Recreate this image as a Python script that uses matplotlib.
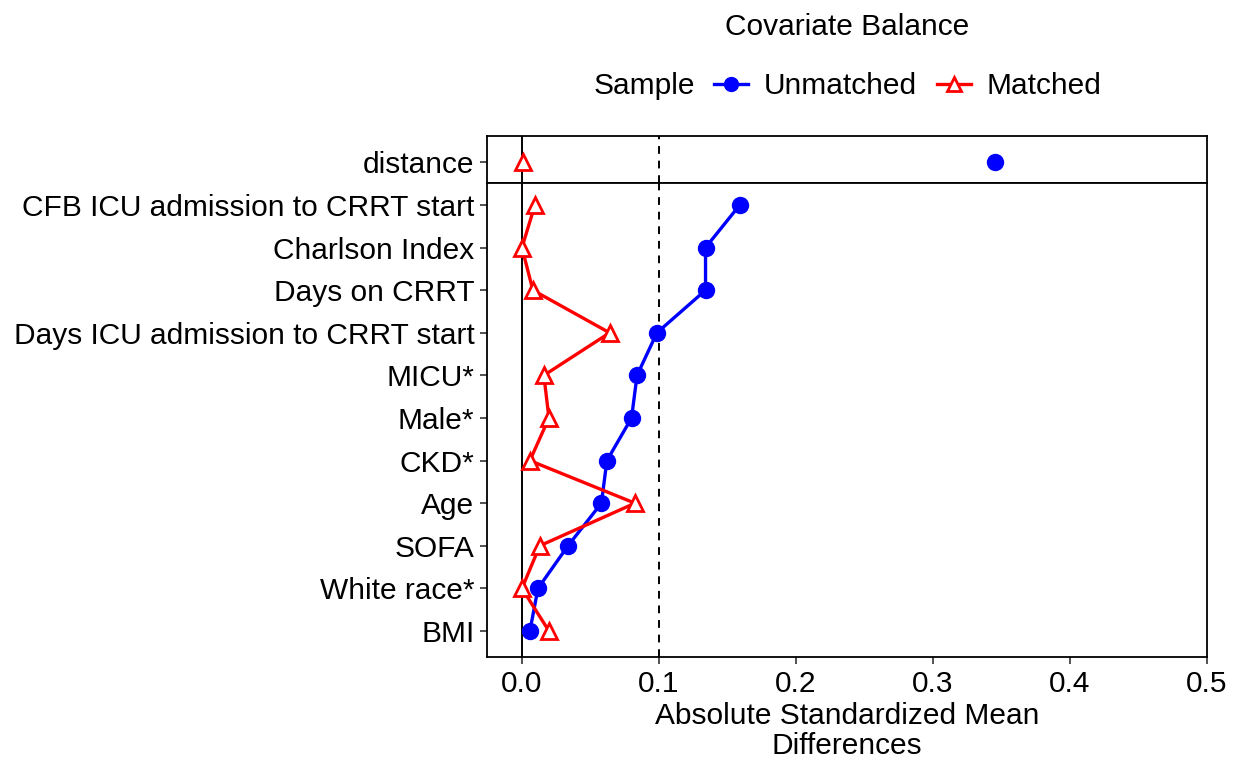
import matplotlib
matplotlib.use("Agg")
import matplotlib.pyplot as plt
from matplotlib.lines import Line2D
from matplotlib.offsetbox import HPacker

plt.rcParams['font.family'] = ['Liberation Sans', 'DejaVu Sans']

top_labels = ["distance"]
top_unmatched = [0.345]
top_matched = [0.001]

covariates = ["CFB ICU admission to CRRT start", "Charlson Index", "Days on CRRT",
              "Days ICU admission to CRRT start", "MICU*", "Male*", "CKD*", "Age",
              "SOFA", "White race*", "BMI"]
unmatched = [0.159, 0.134, 0.134, 0.0985, 0.084, 0.080, 0.062, 0.058, 0.0336, 0.0117, 0.0058]
matched = [0.0095, 0.0, 0.008, 0.064, 0.016, 0.0197, 0.0058, 0.0825, 0.013, 0.0, 0.0197]

xticks = [0.0, 0.1, 0.2, 0.3, 0.4, 0.5]
threshold = 0.1

W, H = 1239, 762
fig = plt.figure(figsize=(W / 100, H / 100), dpi=100)
left, right = 487 / W, 1207 / W
y_top, y_sep, y_bot = 136, 183, 657
ax_top = fig.add_axes([left, 1 - y_sep / H, right - left, (y_sep - y_top) / H])
ax = fig.add_axes([left, 1 - y_bot / H, right - left, (y_bot - y_sep) / H])

xlim = (-0.0255, 0.5)
fs = 21.5
ucol, mcol = '#0000FF', '#FF0000'
lw = 2.4
ms = 11.5

def style(a):
    a.set_xlim(*xlim)
    for s in a.spines.values():
        s.set_linewidth(1.3)
        s.set_color('black')
    a.axvline(0, color='black', lw=1.4, zorder=1)
    a.axvline(threshold, color='black', lw=1.4, ls=(0, (4, 3.5)), zorder=1)
    a.tick_params(axis='both', length=5, width=1.2, labelsize=fs, colors='#333333',
                  labelcolor='black', pad=4)

# top panel
ypos_top = list(range(len(top_labels)))
ax_top.plot(top_unmatched, ypos_top, color=ucol, lw=lw, marker='o', ms=ms, zorder=3)
ax_top.plot(top_matched, ypos_top, color=mcol, lw=lw, marker='^', ms=ms,
            markerfacecolor='white', markeredgewidth=2, zorder=3)
ax_top.set_yticks(ypos_top)
ax_top.set_yticklabels(top_labels)
ax_top.set_ylim(0.49, -0.61)
style(ax_top)
ax_top.tick_params(axis='x', bottom=False, labelbottom=False)

# main panel
ypos = list(range(len(covariates)))
ax.plot(unmatched, ypos, color=ucol, lw=lw, marker='o', ms=ms, zorder=3)
ax.plot(matched, ypos, color=mcol, lw=lw, marker='^', ms=ms,
        markerfacecolor='white', markeredgewidth=2, zorder=3)
ax.set_yticks(ypos)
ax.set_yticklabels(covariates)
ax.set_ylim(len(covariates) - 1 + 0.61, -0.516)
style(ax)
ax.set_xticks(xticks)
ax.set_xticklabels([f"{t:.1f}" for t in xticks])
ax.set_xlabel("Absolute Standardized Mean\nDifferences", fontsize=fs, labelpad=3,
              linespacing=1.12)

fig.text((left + right) / 2, 1 - 27 / H, "Covariate Balance", ha='center', va='center',
         fontsize=fs)

handles = [Line2D([], [], color=ucol, lw=lw, marker='o', ms=ms - 1.5),
           Line2D([], [], color=mcol, lw=lw, marker='^', ms=ms - 1.5,
                  markerfacecolor='white', markeredgewidth=2)]
leg = fig.legend(handles, ["Unmatched", "Matched"], title="Sample", ncol=2,
                 loc='center', bbox_to_anchor=((left + right) / 2, 1 - 86 / H),
                 frameon=False, fontsize=fs, title_fontsize=fs, handlelength=1.15,
                 columnspacing=0.68, handletextpad=0.5)
title_box = leg._legend_title_box
handle_box = leg._legend_handle_box
leg._legend_box._children = [HPacker(children=[title_box, handle_box], pad=0, sep=14, align='center')]

fig.savefig("out.png", dpi=100)
